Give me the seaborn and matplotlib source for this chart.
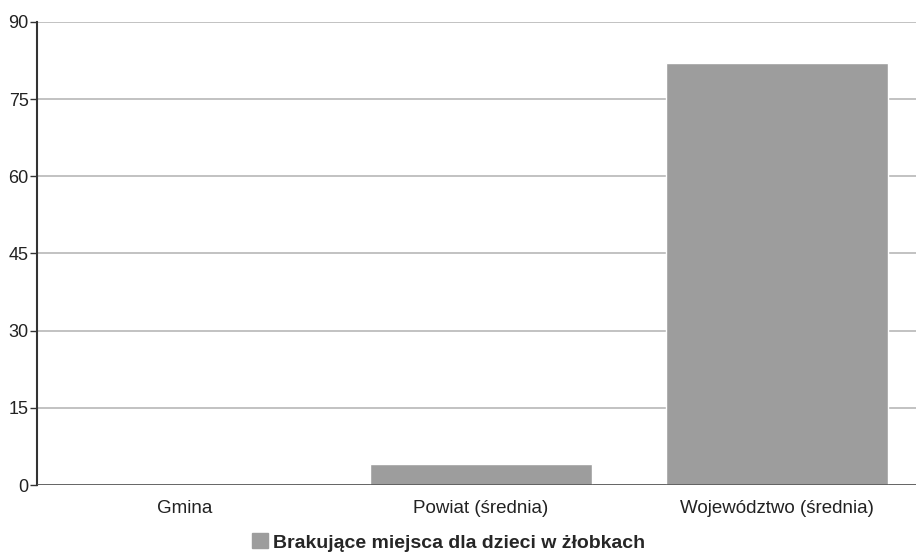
import matplotlib
matplotlib.use("Agg")
import matplotlib.pyplot as plt
import matplotlib.patches as mpatches
import seaborn as sns
import pandas as pd

categories = ["Gmina", "Powiat (średnia)", "Województwo (średnia)"]
values = [0, 4, 82]
yticks = [0, 15, 30, 45, 60, 75, 90]
series_name = "Brakujące miejsca dla dzieci w żłobkach"
bar_color = "#9d9d9d"

sns.set_style("white")
plt.rcParams["font.family"] = ["Liberation Sans", "DejaVu Sans"]

df = pd.DataFrame({"kategoria": categories, "wartosc": values})

fig = plt.figure(figsize=(9.16, 5.58), dpi=100)
# axes run past the right edge, as in the scanned source
ax = fig.add_axes([37 / 916, 1 - 485 / 558, 888 / 916, 463 / 558])

sns.barplot(data=df, x="kategoria", y="wartosc", color=bar_color,
            width=0.75, saturation=1, ax=ax, zorder=3)

ax.set_ylim(0, 90)
ax.set_yticks(yticks)
ax.yaxis.grid(True, color="#bdbdbd", linewidth=1.3, zorder=0)
ax.set_axisbelow(True)
ax.set_xlabel("")
ax.set_ylabel("")
for side in ["top", "right", "bottom"]:
    ax.spines[side].set_visible(False)
ax.spines["left"].set_color("#333333")
ax.spines["left"].set_linewidth(1.5)
ax.axhline(0, color="#555555", linewidth=1.2, zorder=4)
ax.tick_params(axis="y", length=5, width=1, color="#333333", labelsize=13,
               labelcolor="#222222", pad=1, left=True)
ax.tick_params(axis="x", length=0, labelsize=13.5, labelcolor="#222222", pad=11)

handle = mpatches.Patch(color=bar_color, label=series_name)
fig.legend(handles=[handle], loc="lower center", bbox_to_anchor=(0.49, -0.02),
           frameon=False, prop={"size": 14, "weight": "bold"},
           handlelength=0.8, handleheight=0.8, handletextpad=0.3)

fig.savefig("out.png", dpi=100)
